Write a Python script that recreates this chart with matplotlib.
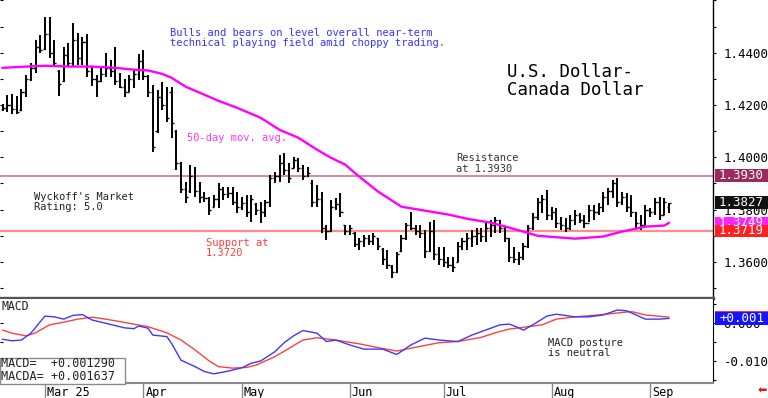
import matplotlib
matplotlib.use("Agg")
import matplotlib.pyplot as plt
from matplotlib import transforms
from matplotlib.patches import Rectangle
from matplotlib.ticker import MultipleLocator, FormatStrFormatter, FixedLocator
import numpy as np

# Daily bars, USD/CAD
highs = [1.4205, 1.4239, 1.4243, 1.4235, 1.4262, 1.4316, 1.4361, 1.4449, 1.4468, 1.4537,
         1.4537, 1.4449, 1.4335, 1.4422, 1.4438, 1.4514, 1.4476, 1.4461, 1.4472, 1.4346,
         1.4316, 1.4346, 1.4400, 1.4373, 1.4422, 1.4323, 1.4300, 1.4316, 1.4338, 1.4396,
         1.4411, 1.4316, 1.4277, 1.4258, 1.4289, 1.4270, 1.4270, 1.4105, 1.3983, 1.3907,
         1.3972, 1.3964, 1.3907, 1.3869, 1.3849, 1.3857, 1.3903, 1.3888, 1.3888, 1.3888,
         1.3869, 1.3849, 1.3857, 1.3857, 1.3827, 1.3830, 1.3838, 1.3934, 1.3945, 1.4010,
         1.4018, 1.3979, 1.4002, 1.3998, 1.3972, 1.3964, 1.3914, 1.3895, 1.3869, 1.3743,
         1.3838, 1.3846, 1.3865, 1.3743, 1.3743, 1.3716, 1.3693, 1.3704, 1.3704, 1.3712,
         1.3693, 1.3655, 1.3647, 1.3590, 1.3639, 1.3704, 1.3750, 1.3792, 1.3743, 1.3743,
         1.3723, 1.3754, 1.3762, 1.3658, 1.3658, 1.3620, 1.3620, 1.3678, 1.3693, 1.3712,
         1.3723, 1.3731, 1.3731, 1.3750, 1.3762, 1.3773, 1.3762, 1.3735, 1.3693, 1.3658,
         1.3636, 1.3674, 1.3743, 1.3788, 1.3846, 1.3857, 1.3876, 1.3811, 1.3807, 1.3773,
         1.3769, 1.3781, 1.3800, 1.3788, 1.3781, 1.3819, 1.3819, 1.3827, 1.3869, 1.3884,
         1.3914, 1.3922, 1.3869, 1.3865, 1.3857, 1.3792, 1.3781, 1.3819, 1.3807, 1.3846,
         1.3849, 1.3846, 1.3827]
lows = [1.4178, 1.4174, 1.4167, 1.4167, 1.4178, 1.4231, 1.4293, 1.4323, 1.4400, 1.4411,
        1.4380, 1.4346, 1.4235, 1.4289, 1.4346, 1.4346, 1.4354, 1.4354, 1.4308, 1.4274,
        1.4231, 1.4289, 1.4308, 1.4308, 1.4277, 1.4266, 1.4231, 1.4251, 1.4266, 1.4296,
        1.4296, 1.4231, 1.4021, 1.4094, 1.4182, 1.4136, 1.4075, 1.3953, 1.3865, 1.3827,
        1.3865, 1.3849, 1.3827, 1.3830, 1.3781, 1.3811, 1.3807, 1.3838, 1.3846, 1.3819,
        1.3788, 1.3800, 1.3773, 1.3754, 1.3781, 1.3750, 1.3773, 1.3811, 1.3903, 1.3907,
        1.3934, 1.3903, 1.3960, 1.3945, 1.3914, 1.3926, 1.3811, 1.3811, 1.3712, 1.3685,
        1.3716, 1.3800, 1.3773, 1.3704, 1.3704, 1.3658, 1.3647, 1.3658, 1.3666, 1.3666,
        1.3647, 1.3590, 1.3571, 1.3540, 1.3559, 1.3636, 1.3685, 1.3723, 1.3704, 1.3693,
        1.3616, 1.3636, 1.3609, 1.3590, 1.3582, 1.3578, 1.3563, 1.3601, 1.3647, 1.3647,
        1.3658, 1.3666, 1.3678, 1.3678, 1.3697, 1.3712, 1.3712, 1.3678, 1.3601, 1.3597,
        1.3590, 1.3609, 1.3655, 1.3723, 1.3762, 1.3788, 1.3762, 1.3762, 1.3731, 1.3723,
        1.3716, 1.3723, 1.3743, 1.3750, 1.3731, 1.3754, 1.3762, 1.3781, 1.3792, 1.3819,
        1.3846, 1.3811, 1.3819, 1.3792, 1.3773, 1.3731, 1.3723, 1.3743, 1.3773, 1.3781,
        1.3762, 1.3781, 1.3788]
opens = [1.4185, 1.4190, 1.4200, 1.4185, 1.4180, 1.4250, 1.4300, 1.4340, 1.4420, 1.4415,
         1.4470, 1.4400, 1.4330, 1.4290, 1.4390, 1.4360, 1.4450, 1.4380, 1.4440, 1.4330,
         1.4300, 1.4290, 1.4320, 1.4340, 1.4330, 1.4290, 1.4270, 1.4250, 1.4300, 1.4320,
         1.4370, 1.4310, 1.4250, 1.4100, 1.4230, 1.4200, 1.4250, 1.4100, 1.3980, 1.3880,
         1.3870, 1.3930, 1.3870, 1.3850, 1.3845, 1.3810, 1.3840, 1.3880, 1.3860, 1.3865,
         1.3830, 1.3810, 1.3825, 1.3790, 1.3820, 1.3800, 1.3790, 1.3830, 1.3920, 1.3930,
         1.3980, 1.3950, 1.3960, 1.3990, 1.3960, 1.3930, 1.3900, 1.3830, 1.3840, 1.3730,
         1.3720, 1.3810, 1.3820, 1.3740, 1.3720, 1.3710, 1.3670, 1.3680, 1.3690, 1.3680,
         1.3690, 1.3650, 1.3610, 1.3580, 1.3560, 1.3640, 1.3690, 1.3740, 1.3730, 1.3720,
         1.3710, 1.3640, 1.3720, 1.3630, 1.3610, 1.3600, 1.3590, 1.3600, 1.3660, 1.3680,
         1.3690, 1.3700, 1.3710, 1.3700, 1.3730, 1.3740, 1.3760, 1.3730, 1.3690, 1.3620,
         1.3610, 1.3620, 1.3660, 1.3730, 1.3770, 1.3830, 1.3840, 1.3780, 1.3790, 1.3750,
         1.3740, 1.3730, 1.3760, 1.3780, 1.3760, 1.3750, 1.3800, 1.3790, 1.3810, 1.3850,
         1.3870, 1.3900, 1.3830, 1.3850, 1.3810, 1.3790, 1.3750, 1.3740, 1.3800, 1.3790,
         1.3830, 1.3780, 1.3810]
closes = [1.4190, 1.4200, 1.4185, 1.4175, 1.4250, 1.4300, 1.4340, 1.4420, 1.4410, 1.4470,
          1.4400, 1.4360, 1.4280, 1.4390, 1.4360, 1.4450, 1.4380, 1.4440, 1.4330, 1.4300,
          1.4290, 1.4320, 1.4340, 1.4330, 1.4290, 1.4270, 1.4250, 1.4300, 1.4320, 1.4370,
          1.4310, 1.4250, 1.4040, 1.4230, 1.4200, 1.4150, 1.4130, 1.3980, 1.3880, 1.3850,
          1.3930, 1.3870, 1.3850, 1.3845, 1.3800, 1.3840, 1.3880, 1.3860, 1.3865, 1.3830,
          1.3810, 1.3825, 1.3790, 1.3840, 1.3800, 1.3790, 1.3830, 1.3920, 1.3930, 1.3980,
          1.3950, 1.3920, 1.3990, 1.3960, 1.3930, 1.3940, 1.3830, 1.3840, 1.3730, 1.3720,
          1.3810, 1.3820, 1.3790, 1.3720, 1.3730, 1.3670, 1.3680, 1.3690, 1.3680, 1.3700,
          1.3660, 1.3610, 1.3590, 1.3560, 1.3630, 1.3690, 1.3740, 1.3730, 1.3720, 1.3710,
          1.3640, 1.3720, 1.3630, 1.3610, 1.3600, 1.3590, 1.3580, 1.3660, 1.3680, 1.3690,
          1.3700, 1.3710, 1.3700, 1.3730, 1.3740, 1.3760, 1.3730, 1.3690, 1.3620, 1.3610,
          1.3620, 1.3660, 1.3730, 1.3770, 1.3830, 1.3840, 1.3780, 1.3790, 1.3750, 1.3740,
          1.3730, 1.3760, 1.3780, 1.3760, 1.3750, 1.3800, 1.3790, 1.3810, 1.3850, 1.3870,
          1.3900, 1.3830, 1.3850, 1.3810, 1.3790, 1.3750, 1.3740, 1.3800, 1.3790, 1.3830,
          1.3780, 1.3830, 1.3827]

# 50-day moving average, sampled at bar positions
ma_idx = [0, 4, 9, 14, 19, 24, 28, 31, 34, 36, 39, 46, 50, 55, 59, 63, 67, 70, 73,
          76, 80, 85, 90, 95, 99, 104, 108, 114, 122, 128, 132, 137, 141, 142]
ma_vals = [1.4342, 1.4346, 1.4350, 1.4347, 1.4347, 1.4342, 1.4335, 1.4332, 1.4319, 1.4304,
           1.4270, 1.4216, 1.4189, 1.4151, 1.4105, 1.4075, 1.4029, 1.3998, 1.3972,
           1.3926, 1.3869, 1.3811, 1.3796, 1.3781, 1.3765, 1.3750, 1.3731, 1.3700, 1.3689,
           1.3697, 1.3716, 1.3735, 1.3739, 1.3749]

# MACD (blue) and its average (red)
macd_idx = [0, 2, 4, 6, 8, 9, 11, 13, 15, 17, 19, 22, 26, 28, 29, 31, 32, 35, 36, 38,
            41, 43, 45, 48, 51, 53, 55, 58, 60, 62, 64, 67, 69, 71, 74, 77, 81, 84, 87,
            90, 93, 97, 100, 102, 106, 108, 110, 111, 113, 116, 118, 122, 125, 128, 131,
            133, 135, 137, 140, 142]
macd_vals = [-0.0042, -0.0046, -0.0044, -0.0026, 0.0004, 0.0019, 0.0017, 0.0011, 0.0021,
             0.0023, 0.0009, 0.0000, -0.0012, -0.0014, -0.0007, -0.0013, -0.0031, -0.0035,
             -0.0053, -0.0097, -0.0114, -0.0127, -0.0133, -0.0126, -0.0117, -0.0105,
             -0.0099, -0.0075, -0.0051, -0.0033, -0.0019, -0.0026, -0.0048, -0.0044,
             -0.0057, -0.0068, -0.0068, -0.0082, -0.0057, -0.0039, -0.0044, -0.0048,
             -0.0031, -0.0022, -0.0004, -0.0002, -0.0012, -0.0018, -0.0004, 0.0019, 0.0024,
             0.0017, 0.0017, 0.0022, 0.0035, 0.0033, 0.0022, 0.0011, 0.0011, 0.00129]
signal_idx = [0, 2, 5, 7, 10, 13, 16, 19, 22, 27, 31, 35, 38, 41, 44, 46, 49, 52, 54,
              58, 61, 64, 67, 71, 76, 80, 84, 88, 93, 97, 102, 105, 108, 110, 115, 118,
              122, 127, 134, 137, 142]
signal_vals = [-0.0018, -0.0026, -0.0033, -0.0025, -0.0004, 0.0003, 0.0011, 0.0016, 0.0011,
               0.0000, -0.0009, -0.0025, -0.0044, -0.0070, -0.0099, -0.0114, -0.0118,
               -0.0116, -0.0110, -0.0088, -0.0066, -0.0044, -0.0038, -0.0044, -0.0054,
               -0.0064, -0.0073, -0.0063, -0.0051, -0.0048, -0.0037, -0.0025, -0.0015,
               -0.0012, -0.0004, 0.0011, 0.0017, 0.0022, 0.0031, 0.0022, 0.001637]

month_labels = ["Mar 25", "Apr", "May", "Jun", "Jul", "Aug", "Sep"]
month_starts = [9, 30, 51, 74, 94, 117, 138]
price_labels = [1.36, 1.38, 1.40, 1.42, 1.44]

resistance = 1.3930
support = 1.3720
support_tag = 1.3719
last_close = 1.3827
last_ma = 1.3749
last_macd = 0.001290
last_macda = 0.001637

plt.rcParams['font.family'] = ['DejaVu Sans Mono', 'DejaVu Sans']

W, H = 768, 398
fig = plt.figure(figsize=(W / 100, H / 100), dpi=100)
fig.patch.set_facecolor('white')


def fx(x):
    return x / W


def fy(y):
    return 1 - y / H


def put(lines, x, y0, dy=10, **kw):
    # stacked note lines, positions in picture pixels
    for k, line in enumerate(lines):
        fig.text(fx(x), fy(y0 + k * dy), line, ha='left', va='center', **kw)


tag_z = [5]


def value_tag(axis, value, text, face, px_unit, txt='white'):
    # coloured box on the right axis; later tags sit on top of earlier ones
    tr = transforms.blended_transform_factory(fig.transFigure, axis.transData)
    h = 12.5 * px_unit
    z = tag_z[0]
    axis.add_patch(Rectangle((fx(715), value - h / 2), fx(768) - fx(715), h,
                             transform=tr, facecolor=face, edgecolor='none',
                             clip_on=False, zorder=z))
    if text:
        axis.text(fx(719), value, text, transform=tr, color=txt, fontsize=9,
                  ha='left', va='center', clip_on=False, zorder=z + 0.5)
    tag_z[0] += 1


xmin, xmax = -0.576, 151.4

# ---------------- price panel ----------------
ax = fig.add_axes([0, fy(298), fx(713), 298 / H])
x = np.arange(len(highs))
ax.vlines(x, lows, highs, color='black', lw=1.4, zorder=3)
ax.hlines(opens, x - 0.45, x, color='black', lw=1.0, zorder=3)
ax.hlines(closes, x, x + 0.45, color='black', lw=1.0, zorder=3)
ax.plot(ma_idx, ma_vals, color='#ff00ff', lw=1.7, zorder=4)
ax.axhline(resistance, color='#c9799d', lw=1.2, zorder=2)
ax.axhline(support, color='#ff8c8c', lw=1.6, zorder=2)

ax.set_xlim(xmin, xmax)
ax.set_ylim(1.3462, 1.46015)
ax.set_xticks([])
ax.yaxis.tick_right()
ax.yaxis.set_major_locator(FixedLocator(price_labels))
ax.yaxis.set_minor_locator(MultipleLocator(0.01))
ax.yaxis.set_major_formatter(FormatStrFormatter('%.4f'))
ax.tick_params(axis='y', which='both', direction='out', length=2.5, width=0.8,
               labelsize=9, pad=5, colors='black')
for s in ('top', 'left'):
    ax.spines[s].set_visible(False)
ax.spines['right'].set_color('black')
ax.spines['right'].set_linewidth(1.0)
ax.spines['bottom'].set_color('#555555')
ax.spines['bottom'].set_linewidth(2.4)

left = ax.secondary_yaxis('left')
left.spines['left'].set_visible(False)
left.yaxis.set_major_locator(MultipleLocator(0.01))
left.tick_params(direction='in', length=2, width=0.8, labelleft=False)

value_tag(ax, resistance, "1.3930", '#9b2a5e', 0.0003824)
value_tag(ax, last_close, "1.3827", '#111111', 0.0003824)
value_tag(ax, last_ma, "1.3749", '#ff22ff', 0.0003824)
value_tag(ax, support_tag, "1.3719", '#ff2020', 0.0003824)

# ---------------- MACD panel ----------------
ax2 = fig.add_axes([0, fy(383), fx(713), 84 / H])
ax2.plot(signal_idx, signal_vals, color='#ff4040', lw=1.0)
ax2.plot(macd_idx, macd_vals, color='#3a3aff', lw=1.0)
ax2.set_xlim(xmin, xmax)
ax2.set_ylim(-0.01571, 0.0064)
ax2.yaxis.tick_right()
ax2.yaxis.set_major_locator(FixedLocator([0.0, -0.010]))
ax2.yaxis.set_minor_locator(FixedLocator([0.005, -0.005, -0.015]))
ax2.yaxis.set_major_formatter(FormatStrFormatter('%.3f'))
ax2.tick_params(axis='y', which='both', direction='out', length=2.5, width=0.8,
                labelsize=9, pad=5)
ax2.set_xticks(month_starts, month_labels)
ax2.tick_params(axis='x', length=0, pad=2, labelsize=8.5)
for lbl in ax2.get_xticklabels():
    lbl.set_horizontalalignment('left')
    lbl.set_transform(lbl.get_transform() +
                      transforms.ScaledTranslation(2 / 100, 0, fig.dpi_scale_trans))
sep = transforms.blended_transform_factory(ax2.transData, ax2.transAxes)
ax2.vlines(month_starts, -0.19, 0, transform=sep, color='#8a8a8a', lw=1.0,
           clip_on=False)
for s in ('top', 'left'):
    ax2.spines[s].set_visible(False)
ax2.spines['right'].set_color('black')
ax2.spines['bottom'].set_color('#8a8a8a')
ax2.spines['bottom'].set_linewidth(1.5)

left2 = ax2.secondary_yaxis('left')
left2.spines['left'].set_visible(False)
left2.yaxis.set_major_locator(FixedLocator([0.0, -0.005]))
left2.tick_params(direction='in', length=2, width=0.8, labelleft=False)

# the red MACDA tag is almost hidden behind the blue MACD tag
value_tag(ax2, last_macda, "", '#ff3030', 1 / 3800)
value_tag(ax2, last_macd, "+0.001", '#1414ff', 1 / 3800)

# ---------------- notes ----------------
put(["Bulls and bears on level overall near-term",
     "technical playing field amid choppy trading."], 170, 33.5, 10,
    color='#3535ff', fontsize=7.5)
put(["U.S. Dollar-", "Canada Dollar"], 507, 72, 17.6, color='black', fontsize=12.5)
put(["50-day mov. avg."], 187, 138, color='#ff33ff', fontsize=7.5)
put(["Resistance", "at 1.3930"], 456, 158, 11, color='#333333', fontsize=7.5)
put(["Wyckoff's Market", "Rating: 5.0"], 34, 197, 10.5, color='#222222', fontsize=7.5)
put(["Support at", "1.3720"], 206, 243.3, 10, color='#ff3b3b', fontsize=7.5)
put(["MACD"], 2, 306, color='#222222', fontsize=8.3)
put(["MACD posture", "is neutral"], 548, 343.3, 10, color='#222222', fontsize=7.5)

fig.add_artist(Rectangle((0, fy(384)), fx(125), 26 / H, transform=fig.transFigure,
                         facecolor='white', edgecolor='#8a8a8a', lw=1.0, zorder=5))
put([f"MACD=  {last_macd:+.6f}", f"MACDA= {last_macda:+.6f}"], 1, 363.5, 13,
    color='#222222', fontsize=8.5, zorder=6)

fig.text(fx(762), fy(390.5), "\u2b05", color='#ee1111', fontsize=8,
         ha='center', va='center', family='DejaVu Sans')

fig.savefig("out.png", dpi=100)
plt.close(fig)
